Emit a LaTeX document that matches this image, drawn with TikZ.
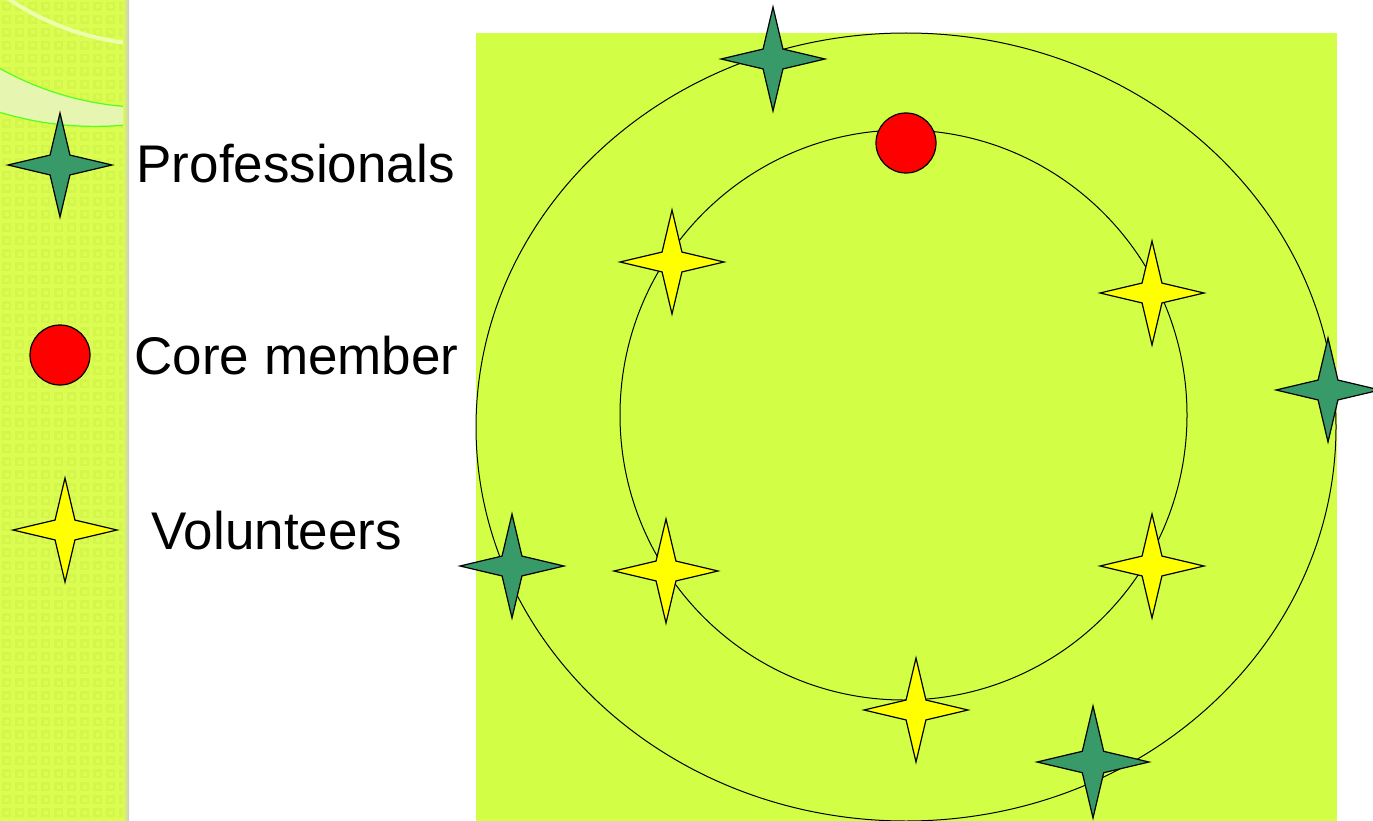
\documentclass[tikz,border=0pt]{standalone}
\usepackage{fontspec}
\setmainfont{Liberation Sans}
\usetikzlibrary{shapes.geometric}

\definecolor{lime}{HTML}{D2FF46}
\definecolor{strip}{HTML}{DBFC50}
\definecolor{stripdark}{HTML}{D4F54B}
\definecolor{band}{HTML}{E6F5B0}
\definecolor{pro}{HTML}{379A68}
\definecolor{vol}{HTML}{FFFF00}
\definecolor{core}{HTML}{FF0000}

\tikzset{
  prostar/.style={star, star points=4, star point ratio=3.7, draw=black, line width=1.2pt,
    fill=pro, inner sep=0pt, minimum size=104pt},
  volstar/.style={prostar, fill=vol},
  coredot/.style={circle, draw=black, line width=1.2pt, fill=core, inner sep=0pt, minimum size=60pt},
  legend/.style={anchor=base west, font=\fontsize{53}{60}\selectfont},
  orbit/.style={draw=black, line width=1pt}
}

\begin{document}
\begin{tikzpicture}[x=1pt, y=-1pt]
\useasboundingbox (0,0) rectangle (1373,821);
\begin{scope}
\clip (0,0) rectangle (1373,821);
% left strip
\fill[strip] (0,0) rectangle (128,821);
\foreach \i in {0,...,9} {
  \foreach \j in {0,...,63} {
    \fill[stripdark] (\i*13+2,\j*13+2) rectangle ++(9,9);
    \fill[strip] (\i*13+4.5,\j*13+4.5) rectangle ++(4,4);
  }
}
\begin{scope}
  \clip (0,0) rectangle (128,821);
  \fill[band, even odd rule] (95,-200) circle (326.4) (150,-200) circle (307.5);
  \draw[green!60!lime, line width=1.2pt] (150,-200) circle (307.5);
  \draw[green!60!lime, line width=1.2pt] (95,-200) circle (326.4);
  \draw[white!55!lime, line width=4pt] (160,-227) circle (272);
\end{scope}
\shade[left color=strip, right color=gray!40] (123,0) rectangle (129,821);
% board
\fill[lime] (476,33) rectangle (1337,821);
\draw[orbit] (906,427) ellipse [x radius=430, y radius=394];
\draw[orbit] (903.5,415) ellipse [x radius=283.5, y radius=285];
\end{scope}

% professionals
\node[prostar] (pro1) at (773,59) {};
\node[prostar] (pro2) at (1328,390) {};
\node[prostar] (pro3) at (512,566) {};
\node[prostar, minimum size=112pt] (pro4) at (1093,762) {};
% volunteers
\node[volstar] (vol1) at (672,262) {};
\node[volstar] (vol2) at (1152,293) {};
\node[volstar] (vol3) at (666,571) {};
\node[volstar] (vol4) at (1152,566) {};
\node[volstar] (vol5) at (916,710) {};
% core member
\node[coredot] (core) at (906,143) {};

% legend
\node[prostar] (keypro) at (60,165) {};
\node[coredot] (keycore) at (60,355) {};
\node[volstar] (keyvol) at (65,530) {};
\node[legend] (txtpro) at (133,183) {Professionals};
\node[legend] (txtcore) at (131,374) {Core member};
\node[legend] (txtvol) at (148,549) {Volunteers};
\end{tikzpicture}
\end{document}
